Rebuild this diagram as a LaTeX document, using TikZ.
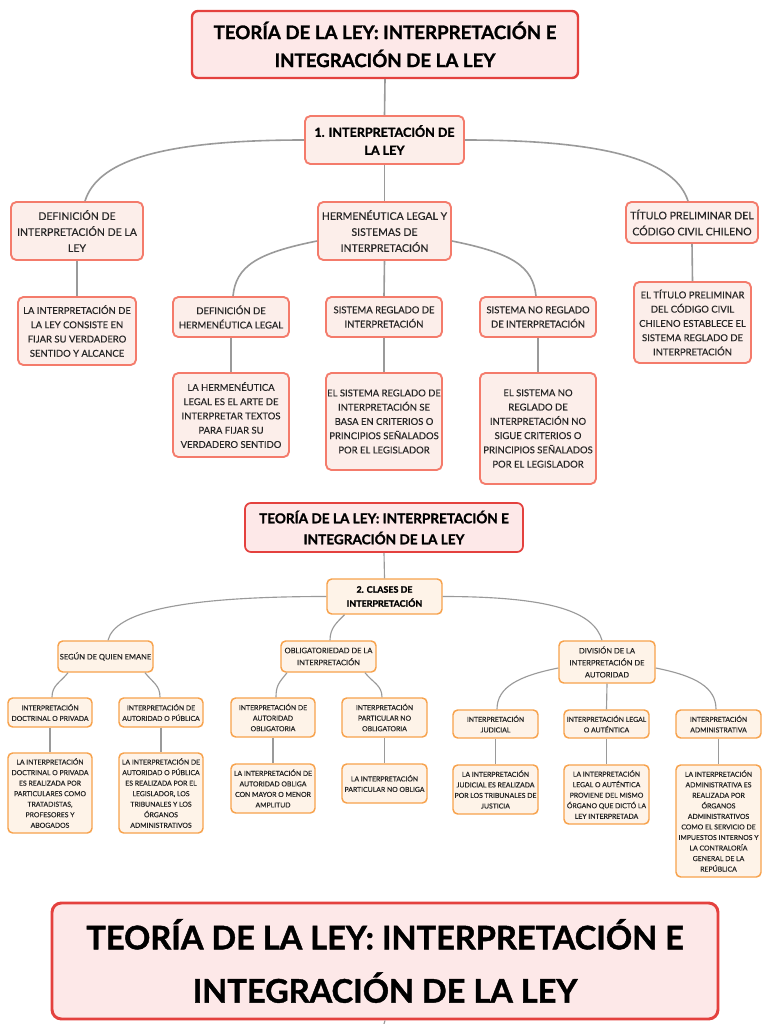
\documentclass[tikz,border=0pt]{standalone}
\usepackage{fontspec}
\setmainfont{Lato}[UprightFeatures={FakeBold=0.35},BoldFeatures={FakeBold=1.3}]
\usetikzlibrary{calc}
\definecolor{titred}{HTML}{E4413E}
\definecolor{titfill}{HTML}{FDE8E8}
\definecolor{salm}{HTML}{F47B6B}
\definecolor{salmfill}{HTML}{FCEEEA}
\definecolor{orng}{HTML}{F7A24C}
\definecolor{orfill}{HTML}{FEF3E8}
\definecolor{txt}{HTML}{262626}
\definecolor{lnk}{HTML}{9A9A9A}
\newcommand\fTa{\fontsize{14pt}{21pt}\selectfont\bfseries}
\newcommand\fTb{\fontsize{10.2pt}{15.75pt}\selectfont\bfseries}
\newcommand\fTc{\fontsize{24.4pt}{40pt}\selectfont\bfseries}
\newcommand\fIa{\fontsize{9.4pt}{13.5pt}\selectfont\bfseries}
\newcommand\fIb{\fontsize{6.7pt}{10.5pt}\selectfont\bfseries}
\newcommand\fLa{\fontsize{7.9pt}{12pt}\selectfont}
\newcommand\fLb{\fontsize{7.1pt}{10.7pt}\selectfont}
\newcommand\fMa{\fontsize{5.66pt}{9pt}\selectfont}
\newcommand\fMb{\fontsize{5.15pt}{7.9pt}\selectfont}
\newcommand\bx[7]{\node[#6,minimum width={(#4-#2)*0.75pt},minimum height={(#5-#3)*0.75pt}] (#1) at ({(#2+#4)/2},{(#3+#5)/2}) {#7};}
\tikzset{
  ttl/.style={draw=titred, fill=titfill, line width=1.8pt, rounded corners=4.5pt, align=center, inner sep=0pt, text=black},
  sa/.style={draw=salm, fill=salmfill, line width=1.4pt, rounded corners=4pt, align=center, inner sep=0pt, text=txt},
  sb/.style={draw=orng, fill=orfill, line width=1.1pt, rounded corners=3.5pt, align=center, inner sep=0pt, text=txt},
  cona/.style={draw=lnk, line width=1.2pt},
  conb/.style={draw=lnk, line width=0.85pt}
}
\begin{document}
\begin{tikzpicture}[x=0.75pt,y=-0.75pt]
\fill[white] (0,0) rectangle (768,1024);
\useasboundingbox (0,0) rectangle (768,1024);

% ---------- Section 1 ----------
\bx{tit1}{192}{11}{578}{78}{ttl,font=\fTa}{TEORÍA DE LA LEY: INTERPRETACIÓN E\\INTEGRACIÓN DE LA LEY}
\bx{int1}{305}{116}{464}{164}{sa,font=\fIa,text=black}{1. INTERPRETACIÓN DE\\LA LEY}
\bx{def1}{11}{202}{143}{260}{sa,font=\fLa}{DEFINICIÓN DE\\INTERPRETACIÓN DE LA\\LEY}
\bx{herm}{318}{202}{451}{260}{sa,font=\fLa}{HERMENÉUTICA LEGAL Y\\SISTEMAS DE\\INTERPRETACIÓN}
\bx{titu}{626}{202}{758}{243}{sa,font=\fLa}{TÍTULO PRELIMINAR DEL\\CÓDIGO CIVIL CHILENO}
\bx{lainf}{18}{297}{136}{365}{sa,font=\fLb}{LA INTERPRETACIÓN DE\\LA LEY CONSISTE EN\\FIJAR SU VERDADERO\\SENTIDO Y ALCANCE}
\bx{defherm}{173}{297}{289}{337}{sa,font=\fLb}{DEFINICIÓN DE\\HERMENÉUTICA LEGAL}
\bx{sreg}{326}{297}{442}{337}{sa,font=\fLb}{SISTEMA REGLADO DE\\INTERPRETACIÓN}
\bx{snoreg}{480}{297}{596}{337}{sa,font=\fLb}{SISTEMA NO REGLADO\\DE INTERPRETACIÓN}
\bx{tituch}{634}{282}{751}{363}{sa,font=\fLb}{EL TÍTULO PRELIMINAR\\DEL CÓDIGO CIVIL\\CHILENO ESTABLECE EL\\SISTEMA REGLADO DE\\INTERPRETACIÓN}
\bx{hermdef}{173}{373}{289}{457}{sa,font=\fLb}{LA HERMENÉUTICA\\LEGAL ES EL ARTE DE\\INTERPRETAR TEXTOS\\PARA FIJAR SU\\VERDADERO SENTIDO}
\bx{regdef}{326}{373}{442}{470}{sa,font=\fLb}{EL SISTEMA REGLADO DE\\INTERPRETACIÓN SE\\BASA EN CRITERIOS O\\PRINCIPIOS SEÑALADOS\\POR EL LEGISLADOR}
\bx{noregdef}{480}{373}{596}{484}{sa,font=\fLb}{EL SISTEMA NO\\REGLADO DE\\INTERPRETACIÓN NO\\SIGUE CRITERIOS O\\PRINCIPIOS SEÑALADOS\\POR EL LEGISLADOR}

\draw[cona] (tit1.south) -- (int1.north);
\draw[cona] (int1.west) .. controls +(-150,0) and +(12,-38) .. ($(def1.north)+(8,0)$);
\draw[cona] (int1.east) .. controls +(150,0) and +(-12,-38) .. ($(titu.north)+(-4,0)$);
\draw[cona] (int1.south) -- (herm.north);
\draw[cona] (def1.south) -- (lainf.north);
\draw[cona] ($(herm.west)+(0,10)$) .. controls +(-60,12) and +(3,-30) .. ($(defherm.north)+(2,0)$);
\draw[cona] (herm.south) -- (sreg.north);
\draw[cona] ($(herm.east)+(0,10)$) .. controls +(60,12) and +(-3,-30) .. ($(snoreg.north)+(-2,0)$);
\draw[cona] (titu.south) -- (tituch.north);
\draw[cona] (defherm.south) -- (hermdef.north);
\draw[cona] (sreg.south) -- (regdef.north);
\draw[cona] (snoreg.south) -- (noregdef.north);

% ---------- Section 2 ----------
\bx{tit2}{245}{503}{523}{552}{ttl,line width=1.3pt,font=\fTb}{TEORÍA DE LA LEY: INTERPRETACIÓN E\\INTEGRACIÓN DE LA LEY}
\bx{clases}{327}{579}{442}{614}{sb,font=\fIb,text=black}{2. CLASES DE\\INTERPRETACIÓN}
\bx{segun}{58}{641}{153}{672}{sb,font=\fMa}{SEGÚN DE QUIEN EMANE}
\bx{oblig}{281}{641}{376}{672}{sb,font=\fMa}{OBLIGATORIEDAD DE LA\\INTERPRETACIÓN}
\bx{divi}{559}{641}{655}{683}{sb,font=\fMa}{DIVISIÓN DE LA\\INTERPRETACIÓN DE\\AUTORIDAD}
\bx{intdoc}{8}{698}{92}{727}{sb,font=\fMb}{INTERPRETACIÓN\\DOCTRINAL O PRIVADA}
\bx{intaut}{119}{698}{203}{727}{sb,font=\fMb}{INTERPRETACIÓN DE\\AUTORIDAD O PÚBLICA}
\bx{intobl}{231}{698}{315}{737}{sb,font=\fMb}{INTERPRETACIÓN DE\\AUTORIDAD\\OBLIGATORIA}
\bx{intpart}{342}{698}{427}{737}{sb,font=\fMb}{INTERPRETACIÓN\\PARTICULAR NO\\OBLIGATORIA}
\bx{intjud}{453}{710}{538}{738}{sb,font=\fMb}{INTERPRETACIÓN\\JUDICIAL}
\bx{intleg}{564}{710}{649}{738}{sb,font=\fMb}{INTERPRETACIÓN LEGAL\\O AUTÉNTICA}
\bx{intadm}{676}{710}{761}{738}{sb,font=\fMb}{INTERPRETACIÓN\\ADMINISTRATIVA}
\bx{docdef}{8}{753}{92}{833}{sb,font=\fMb}{LA INTERPRETACIÓN\\DOCTRINAL O PRIVADA\\ES REALIZADA POR\\PARTICULARES COMO\\TRATADISTAS,\\PROFESORES Y\\ABOGADOS}
\bx{autdef}{119}{753}{203}{833}{sb,font=\fMb}{LA INTERPRETACIÓN DE\\AUTORIDAD O PÚBLICA\\ES REALIZADA POR EL\\LEGISLADOR, LOS\\TRIBUNALES Y LOS\\ÓRGANOS\\ADMINISTRATIVOS}
\bx{obldef}{231}{764}{315}{813}{sb,font=\fMb}{LA INTERPRETACIÓN DE\\AUTORIDAD OBLIGA\\CON MAYOR O MENOR\\AMPLITUD}
\bx{partdef}{342}{764}{427}{803}{sb,font=\fMb}{LA INTERPRETACIÓN\\PARTICULAR NO OBLIGA}
\bx{juddef}{453}{765}{538}{814}{sb,font=\fMb}{LA INTERPRETACIÓN\\JUDICIAL ES REALIZADA\\POR LOS TRIBUNALES DE\\JUSTICIA}
\bx{legdef}{564}{765}{649}{824}{sb,font=\fMb}{LA INTERPRETACIÓN\\LEGAL O AUTÉNTICA\\PROVIENE DEL MISMO\\ÓRGANO QUE DICTÓ LA\\LEY INTERPRETADA}
\bx{admdef}{676}{765}{761}{877}{sb,font=\fMb}{LA INTERPRETACIÓN\\ADMINISTRATIVA ES\\REALIZADA POR\\ÓRGANOS\\ADMINISTRATIVOS\\COMO EL SERVICIO DE\\IMPUESTOS INTERNOS Y\\LA CONTRALORÍA\\GENERAL DE LA\\REPÚBLICA}

\draw[conb] (tit2.south) -- (clases.north);
\draw[conb] (clases.west) .. controls +(-147,0) and +(7,-28) .. ($(segun.north)+(2.5,0)$);
\draw[conb] ($(clases.south)+(-40,0)$) .. controls +(-8,8) and +(0,-12) .. ($(oblig.north)+(1.5,0)$);
\draw[conb] (clases.east) .. controls +(110,0) and +(-8,-28) .. ($(divi.north)+(-5,0)$);
\draw[conb] ($(segun.south)+(-37.5,0)$) .. controls +(-8,10) and +(0,-12) .. ($(intdoc.north)+(2,0)$);
\draw[conb] ($(segun.south)+(39.5,0)$) .. controls +(8,10) and +(0,-12) .. ($(intaut.north)+(-1,0)$);
\draw[conb] ($(oblig.south)+(-41.5,0)$) .. controls +(-8,10) and +(0,-12) .. ($(intobl.north)+(3,0)$);
\draw[conb] ($(oblig.south)+(36.5,0)$) .. controls +(8,10) and +(0,-12) .. ($(intpart.north)+(-2.5,0)$);
\draw[conb] ($(divi.west)+(0,6)$) .. controls +(-40,8) and +(0,-22) .. ($(intjud.north)+(1.5,0)$);
\draw[conb] (divi.south) -- (intleg.north);
\draw[conb] ($(divi.east)+(0,6)$) .. controls +(40,8) and +(0,-22) .. ($(intadm.north)+(-2.5,0)$);
\draw[conb] (intdoc.south) -- (docdef.north);
\draw[conb] (intaut.south) -- (autdef.north);
\draw[conb] (intobl.south) -- (obldef.north);
\draw[conb] (intpart.south) -- (partdef.north);
\draw[conb] (intjud.south) -- (juddef.north);
\draw[conb] (intleg.south) -- (legdef.north);
\draw[conb] (intadm.south) -- (admdef.north);

% ---------- Bottom title ----------
\bx{tit3}{52}{903}{718}{1019}{ttl,line width=2.2pt,rounded corners=7pt,font=\fTc}{TEORÍA DE LA LEY: INTERPRETACIÓN E\\INTEGRACIÓN DE LA LEY}
\coordinate (stub) at (384,1024);
\draw[conb] (tit3.south) -- (stub);
\end{tikzpicture}
\end{document}
